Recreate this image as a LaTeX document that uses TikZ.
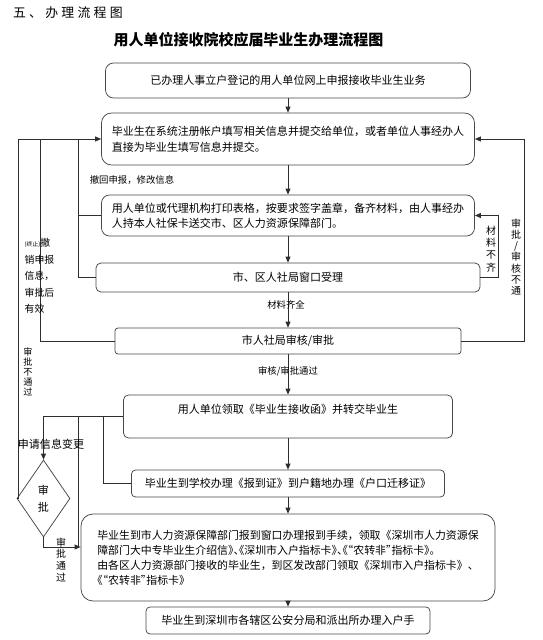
\documentclass[tikz,border=0pt]{standalone}
\usepackage{fontspec}
\setmainfont{Noto Sans CJK SC}
\newfontfamily\titlefont[LetterSpace=25]{Noto Sans CJK SC}
\usepackage{tikz}
\usetikzlibrary{arrows.meta,positioning,calc,shapes.geometric}
\newdimen\px \px=0.03cm
\newcommand\tightp[1]{{\addfontfeatures{RawFeature=+halt}#1}}
\definecolor{lineclr}{HTML}{2E2E2E}
\definecolor{boxclr}{HTML}{474747}

\begin{document}
\begin{tikzpicture}[
  x=0.03cm, y=-0.03cm,
  flowbox/.style={draw=boxclr, line width=0.65pt, rounded corners=6\px, inner sep=0pt,
                  align=center, font=\fontsize{9.4pt}{13pt}\selectfont},
  note/.style={inner sep=0pt, font=\fontsize{8pt}{10pt}\selectfont},
  vnote/.style={inner sep=0pt, align=center},
  wire/.style={draw=lineclr, line width=0.65pt},
  arr/.style={wire, -{Triangle[length=1.8mm, width=1.5mm]}}
]
  \useasboundingbox (0,0) rectangle (543,640);

  % headings
  \node[anchor=west, font=\titlefont\fontsize{11pt}{13pt}\selectfont] (heading) at (9,13) {五、办理流程图};
  \node[font=\bfseries\fontsize{12.8pt}{15pt}\selectfont] (subject) at (248.5,40) {用人单位接收院校应届毕业生办理流程图};

  % main column
  \node[flowbox, minimum width=365\px, minimum height=35\px, rounded corners=8\px] (apply) at (288,80.5)
    {已办理人事立户登记的用人单位网上申报接收毕业生业务};
  \node[flowbox, minimum width=373\px, minimum height=52\px, rounded corners=10\px, align=left,
        font=\fontsize{9.4pt}{13.6pt}\selectfont] (register) at (288,139)
    {毕业生在系统注册帐户填写相关信息并提交给单位，或者单位人事经办人\\直接为毕业生填写信息并提交。};
  \node[flowbox, minimum width=373\px, minimum height=41\px, rounded corners=8\px, align=left,
        font=\fontsize{9.4pt}{12.4pt}\selectfont] (submit) at (288,215.5)
    {用人单位或代理机构打印表格，按要求签字盖章，备齐材料，由人事经办\\人持本人社保卡送交市、区人力资源保障部门。};
  \node[flowbox, minimum width=384\px, minimum height=29\px, rounded corners=5\px] (window) at (288,277.5)
    {市、区人社局窗口受理};
  \node[flowbox, minimum width=346\px, minimum height=26\px, rounded corners=3\px] (review) at (288,341)
    {市人社局审核/审批};
  \node[flowbox, minimum width=329\px, minimum height=43\px, rounded corners=5\px] (letter) at (288,416.5)
    {用人单位领取《毕业生接收函》并转交毕业生\\~};
  \node[flowbox, minimum width=313\px, minimum height=27\px, rounded corners=4\px] (school) at (288,483.5)
    {毕业生到学校办理《报到证》到户籍地办理《户口迁移证》};
  \node[flowbox, minimum width=414\px, minimum height=87\px, rounded corners=12\px, align=left,
        font=\fontsize{9.3pt}{12.8pt}\selectfont] (report) at (288,557.5)
    {毕业生到市人力资源保障部门报到窗口办理报到手续，领取《深圳市人力资源保\\
     障部门大中专毕业生介绍信\tightp{》、《}深圳市入户指标卡\tightp{》、《“}农转非\tightp{”}指标卡\tightp{》。}\\
     由各区人力资源部门接收的毕业生，到区发改部门领取《深圳市入户指标卡》、\\
     \tightp{《“}农转非\tightp{”}指标卡\tightp{》}};
  \node[flowbox, minimum width=284\px, minimum height=27\px, rounded corners=4\px] (hukou) at (288,620.5)
    {毕业生到深圳市各辖区公安分局和派出所办理入户手};

  % decision
  \node[diamond, draw=boxclr, line width=0.65pt, minimum width=53\px, minimum height=77\px, aspect=0.69,
        inner sep=0pt, align=center, font=\fontsize{9.4pt}{14.5pt}\selectfont] (change) at (43.5,498.5) {审\\批};

  \foreach \a/\b in {apply/register, register/submit, submit/window, window/review,
                     review/letter, letter/school, school/report, report/hukou}
    \draw[arr] (\a) -- (\b);

  % guide levels
  \coordinate (lx1) at (18,0);
  \coordinate (lx2) at (40,0);
  \coordinate (lx3) at (78,0);
  \coordinate (lx6) at (103,0);
  \coordinate (rx1) at (498,0);
  \coordinate (rx2) at (524,0);
  \coordinate (ly8) at (0,547);

  % returns on the left
  \draw[arr] (lx1 |- register.west) -- (register.west);
  \draw[wire] (submit.west) -| (lx3 |- register.west);
  \draw[wire] (window.west) -| (lx3 |- register.west);
  \draw[wire] (review.west) -| (lx2 |- register.west);
  \draw[wire] (change.west) -| (lx1 |- register.west);

  % returns on the right
  \draw[arr] (window.east) -| (rx1 |- submit.east) -- (submit.east);
  \draw[arr] (review.east) -| (rx2 |- register.east) -- (register.east);

  % lower branches
  \draw[arr] (letter.west) -| (change.north);
  \draw[wire] (lx6 |- letter.west) |- (school.west);
  \draw[wire] (lx3 |- letter.west) -- (lx3 |- ly8);
  \draw[arr] (change.south) |- (report.west |- ly8);

  % labels
  \node[note] (withdraw) at (132,180) {撤回申报，修改信息};
  \node[note] (complete) at (286,305) {材料齐全};
  \node[note] (passed) at (288,371) {审核/审批通过};
  \node[note, align=left, font=\fontsize{8.4pt}{14pt}\selectfont] (cancel) at (39.5,276)
    {{\fontsize{5pt}{6pt}\selectfont (终止)}撤\\销申报\\信息，\\审批后\\有效};
  \node[vnote, font=\fontsize{7.8pt}{8.6pt}\selectfont] (rejectl) at (28,372) {审\\批\\不\\通\\过};
  \node[vnote, font=\fontsize{8.5pt}{9.6pt}\selectfont] (rejectr) at (516,257) {审\\批\\/\\审\\核\\不\\通};
  \node[vnote, font=\fontsize{8.5pt}{10.5pt}\selectfont] (missing) at (491,249) {材\\料\\不\\齐};
  \node[vnote, font=\fontsize{8.5pt}{10.2pt}\selectfont] (approved) at (61,560) {审\\批\\通\\过};
  \node[note, font=\fontsize{9.4pt}{11pt}\selectfont] (modify) at (51,444) {申请信息变更};
\end{tikzpicture}
\end{document}
